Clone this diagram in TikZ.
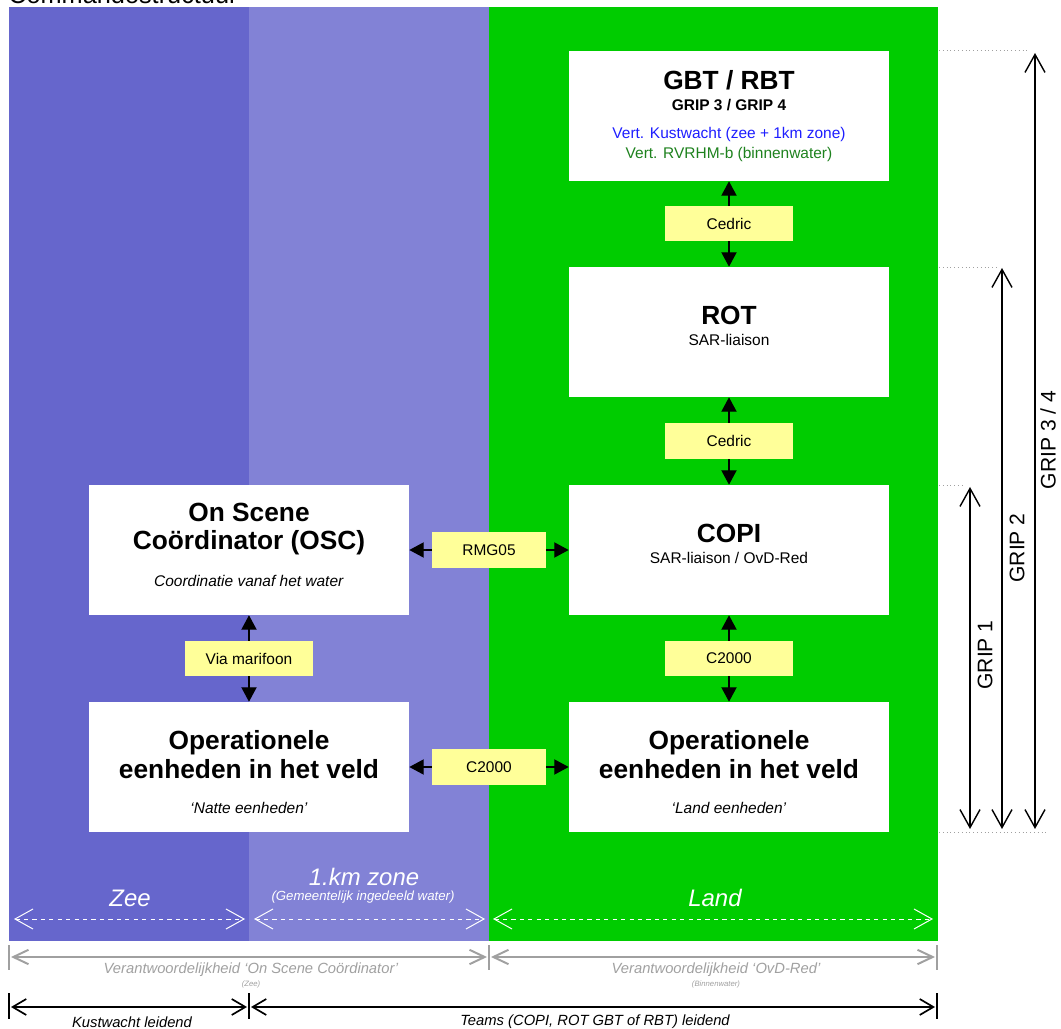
\documentclass[tikz,border=0pt]{standalone}
\usepackage{fontspec}
\setmainfont{Liberation Sans}
\usetikzlibrary{arrows.meta, positioning, calc}
\definecolor{zeeblue}{RGB}{102,102,204}
\definecolor{zoneblue}{RGB}{130,130,214}
\definecolor{landgreen}{RGB}{0,204,0}
\definecolor{memoyellow}{RGB}{255,255,153}
\definecolor{kwblue}{RGB}{30,30,255}
\definecolor{rwgreen}{RGB}{30,130,30}
\definecolor{dimgrey}{RGB}{160,160,160}
\newcommand{\hfont}{\fontsize{18.7}{21}\selectfont\bfseries}
\tikzset{
  unitbox/.style={fill=white, minimum width=8cm, minimum height=3.25cm, inner sep=0pt,
    align=center, font=\fontsize{11}{13}\selectfont},
  memo/.style={fill=memoyellow, minimum width=3.2cm, minimum height=0.875cm, inner sep=0pt,
    font=\fontsize{11}{13}\selectfont},
  link/.style={{Triangle[length=0.36cm,width=0.38cm]}-{Triangle[length=0.36cm,width=0.38cm]},
    line width=0.9pt},
  griparrow/.style={{Straight Barb[length=0.45cm,width=0.5cm]}-{Straight Barb[length=0.45cm,width=0.5cm]},
    line width=1pt},
  gripline/.style={dimgrey, dotted, line width=0.7pt},
  griplbl/.style={rotate=90, font=\fontsize{15}{17}\selectfont},
  zonedim/.style={white, dashed, line width=0.7pt,
    {Straight Barb[length=0.45cm,width=0.5cm]}-{Straight Barb[length=0.45cm,width=0.5cm]}},
  zonelbl/.style={white, font=\fontsize{17}{19}\selectfont\itshape},
  respdim/.style={dimgrey, line width=1.4pt,
    {Straight Barb[length=0.38cm,width=0.36cm]}-{Straight Barb[length=0.38cm,width=0.36cm]}},
  resplbl/.style={dimgrey, font=\fontsize{10.5}{12}\selectfont\itshape},
  leaddim/.style={black, line width=1.2pt,
    {Straight Barb[length=0.34cm,width=0.4cm]}-{Straight Barb[length=0.34cm,width=0.4cm]}},
  leadlbl/.style={black, font=\fontsize{10.5}{12}\selectfont\itshape},
}

\begin{document}
\begin{tikzpicture}[x=0.025cm, y=-0.025cm]
  \useasboundingbox (0,0) rectangle (1061,1029);

  % titel (aan de bovenrand afgesneden)
  \node[anchor=base west, inner sep=0pt, font=\fontsize{18}{20}\selectfont] (titel) at (8,4) {Commandostructuur};

  % zones
  \fill[zeeblue] (9,7) rectangle (249,941);
  \fill[zoneblue] (249,7) rectangle (489,941);
  \fill[landgreen] (489,7) rectangle (938,941);

  % teams land
  \node[unitbox] (gbt) at (729,116) {{\hfont GBT / RBT}\\[2pt]{\bfseries GRIP 3 / GRIP 4}\\[7pt]
    \textcolor{kwblue}{Vert. Kustwacht (zee + 1km zone)}\\[1pt]\textcolor{rwgreen}{Vert. RVRHM-b (binnenwater)}};
  \node[unitbox] (rot) at (729,332) {{\hfont ROT}\\[2pt]SAR-liaison\\[-4pt]\mbox{}};
  \node[unitbox] (copi) at (729,550) {{\hfont COPI}\\[2pt]SAR-liaison / OvD-Red\\[-4pt]\mbox{}};
  \node[unitbox] (opland) at (729,767) {\mbox{}\\[6.2pt]{\hfont Operationele}\\[2pt]{\hfont eenheden in het veld}\\[12pt]\textit{‘Land eenheden’}};

  % water
  \node[unitbox] (osc) at (249,550) {{\hfont On Scene}\\[5.6pt]{\hfont Coördinator (OSC)}\\[13.4pt]\textit{Coordinatie vanaf het water}\\[-5.6pt]\mbox{}};
  \node[unitbox] (opzee) at (249,767) {\mbox{}\\[6.2pt]{\hfont Operationele}\\[2pt]{\hfont eenheden in het veld}\\[12pt]\textit{‘Natte eenheden’}};

  % verbindingen
  \draw[link] (gbt) -- (rot) node[memo, midway] {Cedric};
  \draw[link] (rot) -- (copi) node[memo, midway] {Cedric};
  \draw[link] (copi) -- (opland) node[memo, midway] {C2000};
  \draw[link] (osc) -- (opzee) node[memo, midway] {Via marifoon};
  \draw[link] (osc) -- (copi) node[memo, midway, minimum width=2.825cm] {RMG05};
  \draw[link] (opzee) -- (opland) node[memo, midway, minimum width=2.825cm] {C2000};

  % GRIP-niveaus
  \draw[gripline] (939,50) -- (1030,50);
  \draw[gripline] (939,267) -- (997,267);
  \draw[gripline] (939,485) -- (965,485);
  \draw[gripline] (939,832) -- (1047,832);
  \draw[griparrow] (970,487) -- (970,829);
  \draw[griparrow] (1002,268) -- (1002,829);
  \draw[griparrow] (1035,53) -- (1035,829);
  \node[griplbl] (grip1) at (985,655) {GRIP 1};
  \node[griplbl] (grip2) at (1017,548) {GRIP 2};
  \node[griplbl] (grip34) at (1048,440) {GRIP 3 / 4};

  % zone-aanduiding
  \draw[zonedim] (14,919) -- (245,919);
  \draw[zonedim] (254,919) -- (485,919);
  \draw[zonedim] (493,919) -- (933,919);
  \node[zonelbl] (zee) at (130,898) {Zee};
  \node[zonelbl] (zone) at (364,877) {1.km zone};
  \node[white, font=\fontsize{9.4}{11}\selectfont\itshape] (zonesub) at (363,897) {(Gemeentelijk ingedeeld water)};
  \node[zonelbl] (land) at (715,898) {Land};

  % verantwoordelijkheid
  \draw[dimgrey, line width=1.4pt] (9,945) -- (9,970);
  \draw[dimgrey, line width=1.4pt] (489,945) -- (489,970);
  \draw[dimgrey, line width=1.4pt] (937,945) -- (937,970);
  \draw[respdim] (11,957) -- (487,957);
  \draw[respdim] (491,957) -- (935,957);
  \node[resplbl] (respzee) at (251,970) {Verantwoordelijkheid ‘On Scene Coördinator’};
  \node[dimgrey, font=\fontsize{5.5}{6}\selectfont\itshape] at (251,984) {(Zee)};
  \node[resplbl] (respland) at (716,970) {Verantwoordelijkheid ‘OvD-Red’};
  \node[dimgrey, font=\fontsize{5.5}{6}\selectfont\itshape] at (716,984) {(Binnenwater)};

  % leiding
  \draw[line width=1.2pt] (9,993) -- (9,1019);
  \draw[line width=1.2pt] (249,993) -- (249,1019);
  \draw[line width=1.2pt] (937,993) -- (937,1019);
  \draw[leaddim] (11,1007) -- (247,1007);
  \draw[leaddim] (251,1007) -- (935,1007);
  \node[leadlbl] (kw) at (132,1022) {Kustwacht leidend};
  \node[leadlbl] (teams) at (595,1022) {Teams (COPI, ROT GBT of RBT) leidend};
\end{tikzpicture}
\end{document}
